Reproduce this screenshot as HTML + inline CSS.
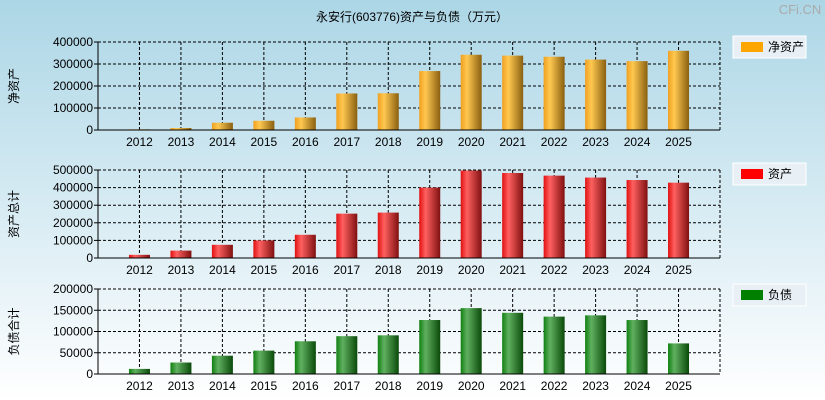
<!DOCTYPE html>
<html><head><meta charset="utf-8"><style>
body{margin:0;width:825px;height:400px;overflow:hidden;background:linear-gradient(#acd6e6,#ffffff);font-family:"Liberation Sans","Noto Sans CJK SC",sans-serif;}
svg{display:block}
</style></head><body>
<svg id="c" width="825" height="400">
<defs>
<linearGradient id="g0" x1="0" x2="1"><stop offset="0" stop-color="#f0a020"/><stop offset="0.3" stop-color="#ffc850"/><stop offset="1" stop-color="#8a6010"/></linearGradient>
<linearGradient id="g1" x1="0" x2="1"><stop offset="0" stop-color="#e01010"/><stop offset="0.3" stop-color="#ff6060"/><stop offset="1" stop-color="#801010"/></linearGradient>
<linearGradient id="g2" x1="0" x2="1"><stop offset="0" stop-color="#108010"/><stop offset="0.3" stop-color="#60b060"/><stop offset="1" stop-color="#0a4a0a"/></linearGradient>
</defs>
<text x="412" y="21" font-size="12" text-anchor="middle">永安行(603776)资产与负债（万元）</text>
<text x="800" y="14" font-size="13" fill="#aaa" text-anchor="middle">CFi.CN</text>
</svg>
<script>
const years=["2012","2013","2014","2015","2016","2017","2018","2019","2020","2021","2022","2023","2024","2025"];
const netAssets=[3000,9000,33000,42000,57000,166000,167000,268000,342000,338000,333000,320000,313000,360000];
const totalAssets=[18000,42000,75000,100000,132000,252000,258000,400000,497000,483000,468000,457000,443000,428000];
const totalLiab=[12000,27000,43000,55000,77000,89000,91000,127000,155000,144000,135000,138000,127000,72000];
const ticks0=[0,100000,200000,300000,400000];
const ticks1=[0,100000,200000,300000,400000,500000];
const ticks2=[0,50000,100000,150000,200000];
const svg=document.getElementById('c');const NS='http://www.w3.org/2000/svg';
function mk(t,a,p){const e=document.createElementNS(NS,t);for(const k in a)e.setAttribute(k,a[k]);(p||svg).appendChild(e);return e;}
const X0=98,X1=720,step=(X1-X0)/15;
function xs(i){return X0+step*(i+1);}
const panels=[
 {top:42,bot:130,max:400000,ticks:ticks0,data:netAssets,grad:'g0',yl:'净资产',leg:'净资产',lc:'#ffa500',ly:36,name:'net-assets'},
 {top:170,bot:258,max:500000,ticks:ticks1,data:totalAssets,grad:'g1',yl:'资产总计',leg:'资产',lc:'#ff0000',ly:163,name:'total-assets'},
 {top:289,bot:374,max:200000,ticks:ticks2,data:totalLiab,grad:'g2',yl:'负债合计',leg:'负债',lc:'#008000',ly:284,name:'total-liabilities'}];
panels.forEach(p=>{
 const g=mk('g',{});
 
 
 const ys=v=>p.bot-(v/p.max)*(p.bot-p.top);
 p.ticks.forEach(t=>{const y=ys(t);
  if(t>0){const l=mk('line',{x1:X0,x2:X1,y1:y,y2:y,stroke:'#000','stroke-dasharray':'3,2','stroke-width':1},g);
   }
  const tx=mk('text',{x:X0-5,y:y+4,'font-size':12,'text-anchor':'end'},g);tx.textContent=t;
  
  mk('line',{x1:X0-4,x2:X0,y1:y,y2:y,stroke:'#000'},g);
 });
 years.forEach((yr,i)=>{const x=xs(i);
  const l=mk('line',{x1:x,x2:x,y1:p.top,y2:p.bot,stroke:'#000','stroke-dasharray':'3,2'},g);
  
 });
 mk('line',{x1:X1,x2:X1,y1:p.top,y2:p.bot,stroke:'#000','stroke-dasharray':'3,2'},g);
 p.data.forEach((v,i)=>{const x=xs(i),y=ys(v);
  const r=mk('rect',{x:x-10.5,y:y,width:21,height:p.bot-y,fill:'url(#'+p.grad+')'},g);
  
  const tx=mk('text',{x:x,y:p.bot+16,'font-size':12,'text-anchor':'middle'},g);tx.textContent=years[i];
  
 });
 mk('line',{x1:X0,x2:X0,y1:p.top,y2:p.bot,stroke:'#000'},g);
 mk('line',{x1:X0,x2:X1,y1:p.bot,y2:p.bot,stroke:'#000'},g);
 const cy=(p.top+p.bot)/2;
 const yl=mk('text',{x:0,y:0,'font-size':12,'text-anchor':'middle',transform:'translate(18,'+cy+') rotate(-90)'},g);yl.textContent=p.yl;
 
 const lg=mk('g',{},g);
 
 mk('rect',{x:733,y:p.ly,width:73,height:22,fill:'#e8f0f6',stroke:'#fff'},lg);
 mk('rect',{x:741,y:p.ly+6,width:22,height:10,fill:p.lc},lg);
 const lt=mk('text',{x:768,y:p.ly+15,'font-size':12},lg);lt.textContent=p.leg;
});
</script>
</body></html>
